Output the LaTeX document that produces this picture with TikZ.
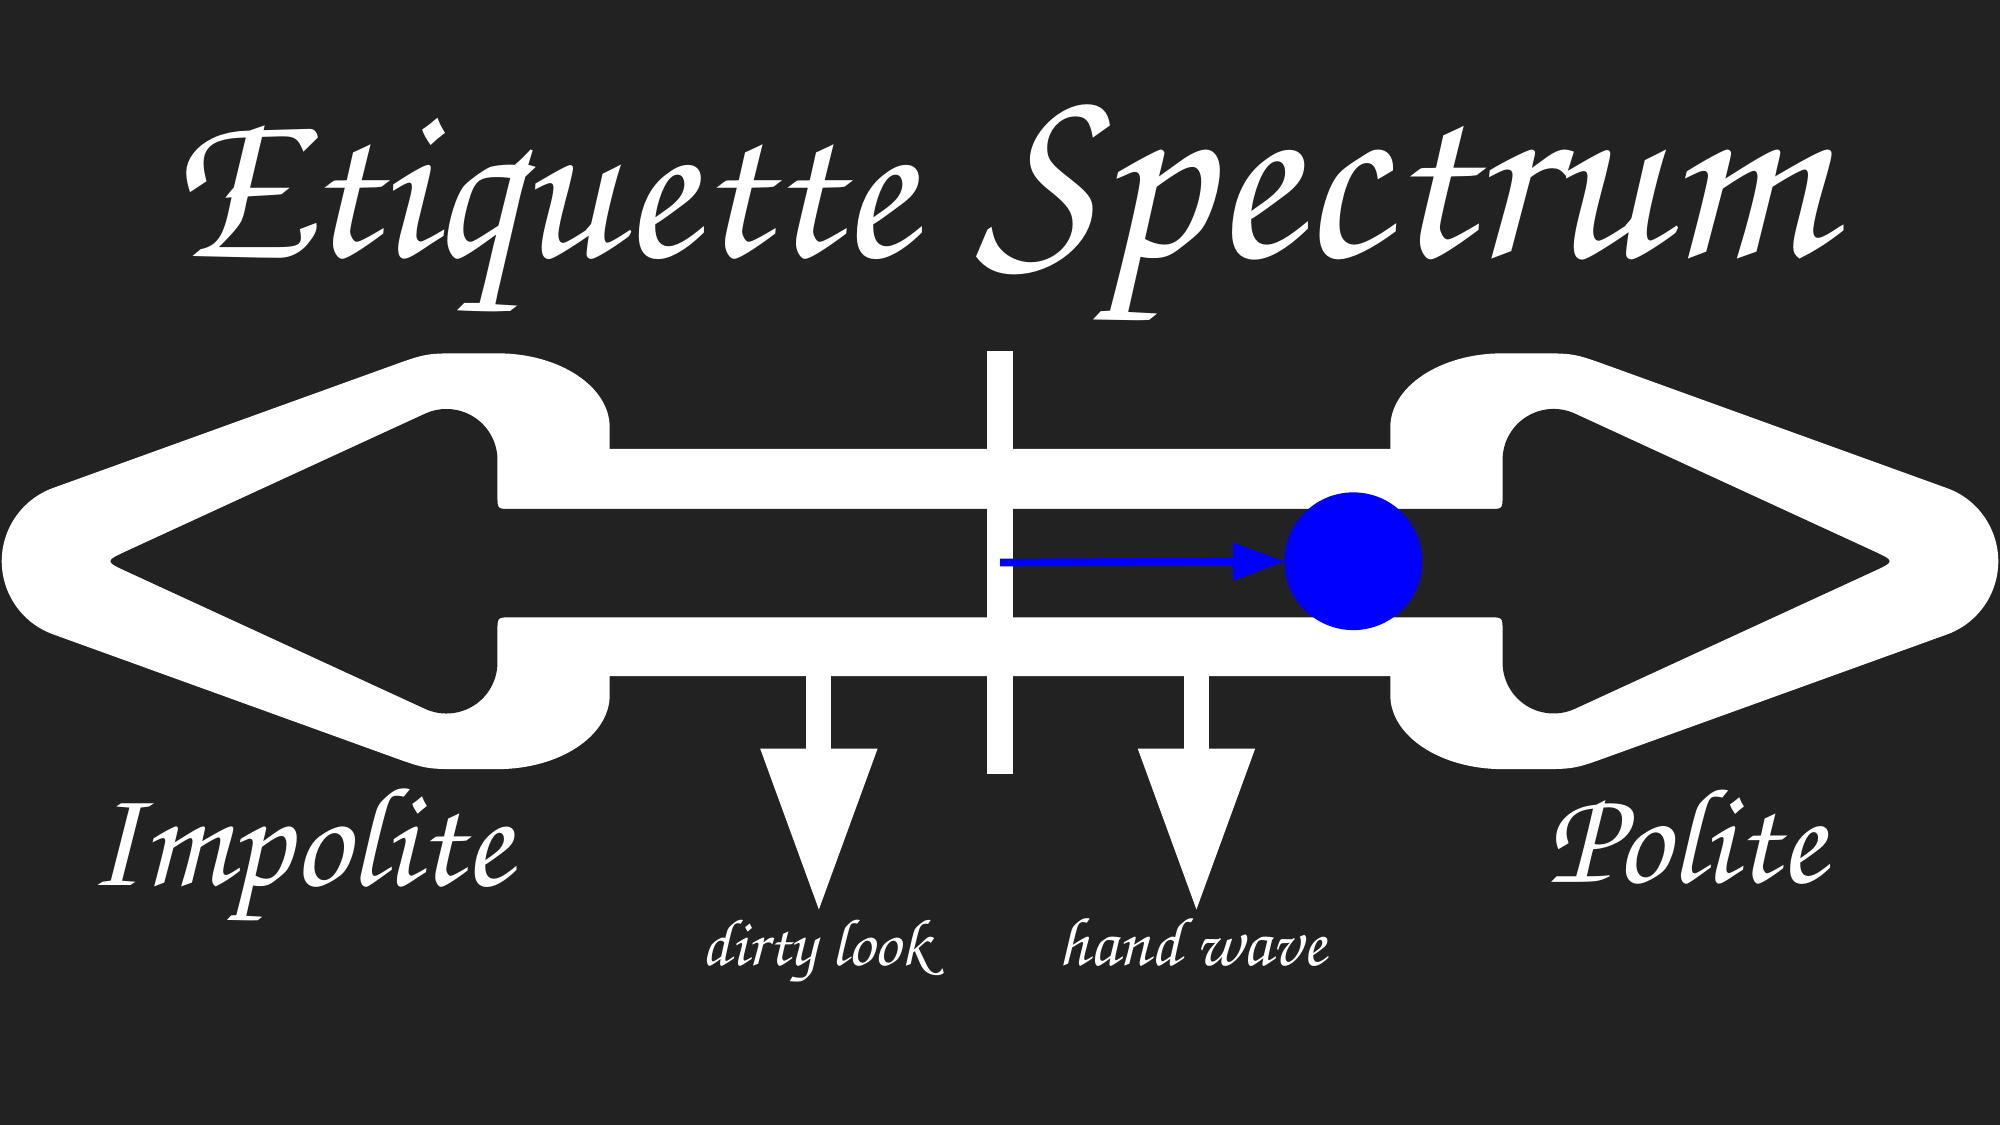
\documentclass[tikz,border=0pt]{standalone}
\usepackage{fontspec}
\usepackage{graphicx}
\newfontfamily\chorusfont{texgyrechorus-mediumitalic.otf}
\usetikzlibrary{arrows.meta}
\definecolor{bgc}{HTML}{222222}
\tikzset{
  lbl/.style={text=white, inner sep=0pt, font=\chorusfont, anchor=base west},
  downarr/.style={draw=white, line width=19.5pt, -{Triangle[length=126pt,width=92pt,line width=0pt]}},
  bluearr/.style={draw=blue, line width=6pt, -{Triangle[length=40pt,width=30pt,line width=0pt]}}
}
\begin{document}
\begin{tikzpicture}[x=1pt,y=-1pt]
\useasboundingbox (0,0) rectangle (1568,882);
\fill[bgc] (0,0) rectangle (1568,882);
% outer white double arrow
\fill[white] (478,352) -- (1090,352) -- (1090,335) .. controls (1090,303) and (1129.4,277) .. (1178,277) -- (1204,277) .. controls (1234,277) .. (1262.2,287.2) -- (1526.4,382.7) arc[start angle=-70.1, end angle=70.1, radius=61] -- (1262.2,592.8) .. controls (1234,603) .. (1204,603) -- (1178,603) .. controls (1129.4,603) and (1090,577) .. (1090,545) -- (1090,530) -- (478,530) -- (478,545) .. controls (478,577) and (438.6,603) .. (390,603) -- (364,603) .. controls (334,603) .. (305.8,592.8) -- (41.6,497.3) arc[start angle=109.9, end angle=250.1, radius=61] -- (305.8,287.2) .. controls (334,277) .. (364,277) -- (390,277) .. controls (438.6,277) and (478,303) .. (478,335) -- cycle;
% inner dark region
\fill[bgc] (390,389) .. controls (390,399) .. (400,399) -- (1168,399) .. controls (1178,399) .. (1178,389) -- (1178,360.6) arc[start angle=180, end angle=294.7, radius=40] -- (1467.8,431.6) .. controls (1486,440) .. (1467.8,448.4) -- (1234.7,555.7) arc[start angle=65.3, end angle=180, radius=40] -- (1178,494) .. controls (1178,484) .. (1168,484) -- (400,484) .. controls (390,484) .. (390,494) -- (390,519.4) arc[start angle=0, end angle=114.7, radius=40] -- (100.2,448.4) .. controls (82,440) .. (100.2,431.6) -- (333.3,324.3) arc[start angle=-114.7, end angle=0, radius=40] -- cycle;
% centre tick
\node[fill=white, draw=none, inner sep=0pt, minimum width=20pt, minimum height=332pt] (tick) at (784,441) {};
% down arrows
\coordinate (s1) at (642,525);
\coordinate (e1) at (642,713);
\coordinate (s2) at (938,525);
\coordinate (e2) at (938,713);
\draw[downarr] (s1) -- (e1);
\draw[downarr] (s2) -- (e2);
% blue marker
\node[circle, fill=blue, draw=none, inner sep=0pt, minimum size=108pt] (dot) at (1061,440) {};
\draw[bluearr] (tick.center) -- (dot.west);
% texts
\node[lbl] (t1) at (130,201) {\resizebox{585pt}{!}{Etiquette}};
\node[lbl] (t2) at (765,201) {\resizebox{665pt}{!}{Spectrum}};
\node[lbl] (imp) at (68,694) {\resizebox{332pt}{!}{Impolite}};
\node[lbl] (pol) at (1212,692) {\resizebox{218pt}{!}{Polite}};
\node[lbl] (dl) at (550,757) {\resizebox{179pt}{!}{dirty look}};
\node[lbl] (hw) at (830,757) {\resizebox{209pt}{!}{hand wave}};
\end{tikzpicture}
\end{document}
